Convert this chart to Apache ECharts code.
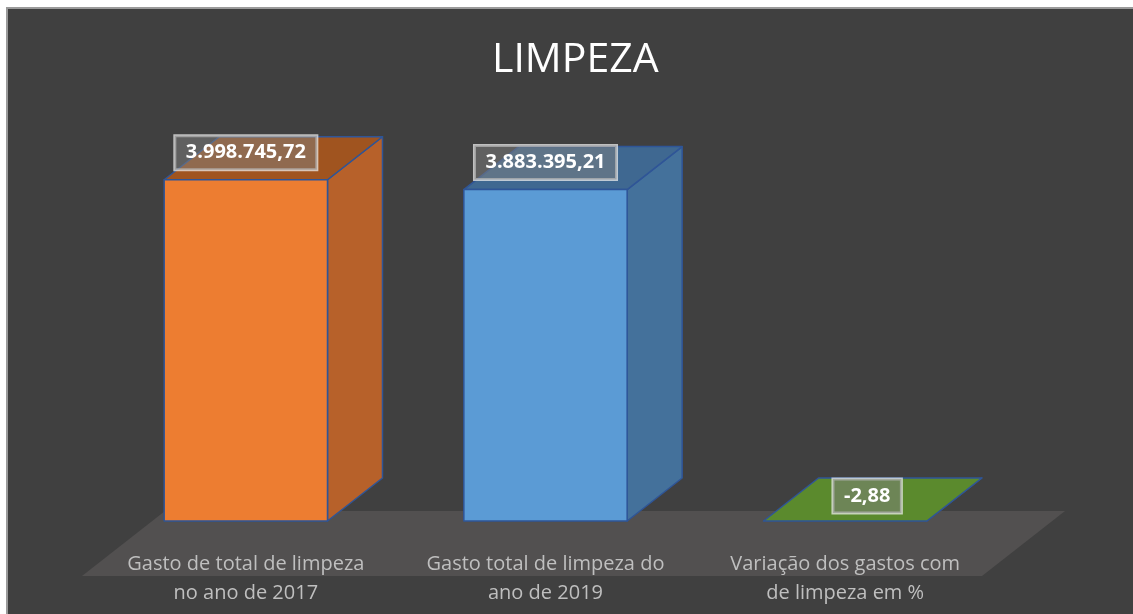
<!DOCTYPE html>
<html>
<head>
<meta charset="utf-8">
<title>LIMPEZA</title>
<script src="https://cdn.jsdelivr.net/npm/echarts@6/dist/echarts.min.js"></script>
<style>
  html, body { margin: 0; padding: 0; background: #ffffff; }
  #grafico { width: 1133px; height: 614px; }
</style>
</head>
<body>
<div id="grafico"></div>
<script>
// dados do grafico
const categorias = [
  'Gasto de total de limpeza\nno ano de 2017',
  'Gasto total de limpeza do\nano de 2019',
  'Variação dos gastos com\nde limpeza em %'
];
const valores = [3998745.72, 3883395.21, -2.88];

// cores de cada barra (frente, lado, topo)
const corFrente = ['#ed7d31', '#5b9bd5', '#70ad47'];
const corLado = ['#b7612a', '#44719b', '#548235'];
const corTopo = ['#a0541f', '#3f6891', '#5b8a2d'];

// profundidade 3d em pixels
const DX = 55, DY = -43;

// formato 3.998.745,72
function formatar(v) {
  const neg = v < 0;
  const partes = Math.abs(v).toFixed(2).split('.');
  const inteiro = partes[0].replace(/\B(?=(\d{3})+(?!\d))/g, '.');
  return (neg ? '-' : '') + inteiro + ',' + partes[1];
}

function desenhaBarra(params, api) {
  const i = params.dataIndex;
  const cs = params.coordSys;
  const base = api.coord([api.value(0), 0]);
  const fim = api.coord([api.value(0), api.value(1)]);
  const larg = api.size([1, 0])[0] * 0.545;
  const x0 = base[0] - larg / 2, x1 = base[0] + larg / 2;
  const yTopo = Math.min(base[1], fim[1]);
  const yBase = Math.max(base[1], fim[1]);
  const contorno = { stroke: '#2f5597', lineWidth: 1.5, lineJoin: 'round' };
  const filhos = [];

  // chao (so uma vez)
  if (i === 0) {
    const yb = cs.y + cs.height;
    filhos.push({
      type: 'polygon', z2: -10,
      shape: { points: [
        [cs.x - 14, yb + 55], [cs.x + cs.width - 13, yb + 55],
        [cs.x + cs.width + 70, yb - 10], [cs.x + 69, yb - 10]
      ] },
      style: { fill: '#525050' }
    });
  }

  filhos.push({
    type: 'polygon',
    shape: { points: [[x1, yTopo], [x1 + DX, yTopo + DY], [x1 + DX, yBase + DY], [x1, yBase]] },
    style: Object.assign({ fill: corLado[i] }, contorno)
  });
  filhos.push({
    type: 'polygon',
    shape: { points: [[x0, yTopo], [x1, yTopo], [x1 + DX, yTopo + DY], [x0 + DX, yTopo + DY]] },
    style: Object.assign({ fill: corTopo[i] }, contorno)
  });
  if (yBase - yTopo > 0.5) {
    filhos.push({
      type: 'rect',
      shape: { x: x0, y: yTopo, width: larg, height: yBase - yTopo },
      style: Object.assign({ fill: corFrente[i] }, contorno)
    });
  }

  // rotulo de dados
  const plano = yBase - yTopo < 5;
  const lx = plano ? base[0] + DX * 0.4 : base[0];
  const ly = plano ? yTopo + DY * 0.58 : yTopo - 27;
  filhos.push({
    type: 'text', z2: 20,
    x: lx, y: ly,
    style: {
      text: formatar(api.value(1)),
      fill: '#ffffff',
      font: 'bold 20px "Open Sans", sans-serif',
      align: 'center',
      verticalAlign: 'middle',
      backgroundColor: 'rgba(128,128,128,0.5)',
      borderColor: 'rgba(235,235,235,0.75)',
      borderWidth: 1.5,
      padding: [7, 11, 7, 11]
    }
  });

  return { type: 'group', children: filhos };
}

const grafico = echarts.init(document.getElementById('grafico'));
grafico.setOption({
  backgroundColor: 'transparent',
  animation: false,
  graphic: [{
    type: 'rect', z: -100,
    shape: { x: 7, y: 8, width: 1200, height: 700 },
    style: { fill: '#404040', stroke: '#9a9a9a', lineWidth: 2 }
  }],
  title: {
    text: 'LIMPEZA',
    left: 487,
    top: 35,
    textStyle: { color: '#ffffff', fontSize: 41, fontWeight: 'normal', fontFamily: 'Open Sans' }
  },
  grid: { left: 96, right: 138, top: 137, bottom: 93 },
  xAxis: {
    type: 'category',
    data: categorias,
    z: 10,
    axisLine: { show: false },
    axisTick: { show: false },
    axisLabel: {
      interval: 0,
      margin: 29,
      color: '#bfbfbf',
      fontSize: 20,
      lineHeight: 29,
      fontFamily: 'Open Sans'
    }
  },
  yAxis: {
    type: 'value',
    min: 0,
    max: 4500000,
    show: false,
    splitLine: { show: false }
  },
  series: [{
    type: 'custom',
    renderItem: desenhaBarra,
    data: valores.map((v, i) => [i, v]),
    encode: { x: 0, y: 1 },
    clip: false
  }]
});
</script>
</body>
</html>
